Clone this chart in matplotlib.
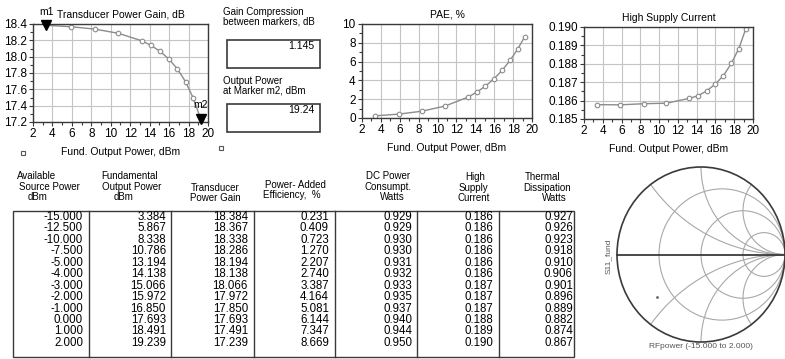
import matplotlib
matplotlib.use("Agg")
import matplotlib.pyplot as plt
from matplotlib.patches import Rectangle, Circle
from matplotlib.ticker import MultipleLocator, FormatStrFormatter

plt.rcParams['font.family'] = ['Liberation Sans', 'DejaVu Sans']

src_power = [-15.0, -12.5, -10.0, -7.5, -5.0, -4.0, -3.0, -2.0, -1.0, 0.0, 1.0, 2.0]
fund_out = [3.384, 5.867, 8.338, 10.786, 13.194, 14.138, 15.066, 15.972, 16.850, 17.693, 18.491, 19.239]
gain = [18.384, 18.367, 18.338, 18.286, 18.194, 18.138, 18.066, 17.972, 17.850, 17.693, 17.491, 17.239]
pae = [0.231, 0.409, 0.723, 1.270, 2.207, 2.740, 3.387, 4.164, 5.081, 6.144, 7.347, 8.669]
dc_power = [0.929, 0.929, 0.930, 0.930, 0.931, 0.932, 0.933, 0.935, 0.937, 0.940, 0.944, 0.950]
supply_current = [0.18578, 0.18577, 0.18583, 0.18586, 0.18612, 0.18626, 0.18653, 0.18689, 0.18736, 0.18802, 0.18883, 0.18991]
thermal = [0.927, 0.926, 0.923, 0.918, 0.910, 0.906, 0.901, 0.896, 0.889, 0.882, 0.874, 0.867]

gain_compression = 1.145
pout_m2 = 19.24

s11_re = [-0.52]
s11_im = [-0.49]
r_circles = [1 / 3, 1.0, 3.0]
x_arcs = [0.5, 1.0, 2.0]

headers = [
    ["Available", "Source Power", "dBm"],
    ["Fundamental", "Output Power", "dBm"],
    ["Transducer", "Power Gain"],
    ["Power- Added", "Efficiency,  %"],
    ["DC Power", "Consumpt.", "Watts"],
    ["High", "Supply", "Current"],
    ["Thermal", "Dissipation", "Watts"],
]
columns = [src_power, fund_out, gain, pae, dc_power, supply_current, thermal]

W, H = 785, 359
fig = plt.figure(figsize=(W / 100, H / 100), dpi=100)
fig.patch.set_facecolor('white')


def px_axes(l, t, r, b):
    return fig.add_axes([l / W, 1 - b / H, (r - l) / W, (b - t) / H])


# overlay in pixel coords for the free text / table
ov = fig.add_axes([0, 0, 1, 1])
ov.set_xlim(0, W)
ov.set_ylim(H, 0)
ov.axis('off')

LINE = '#8c8c8c'
DARK = '#3a3a3a'


def trace_plot(box, y, ylim, ymaj, ymin, yfmt, title):
    ax = px_axes(*box)
    ax.plot(fund_out, y, color=LINE, lw=1, marker='o', ms=3.3, mfc='white', mec=LINE, mew=0.8)
    ax.set_xlim(2, 20)
    ax.set_ylim(*ylim)
    ax.xaxis.set_major_locator(MultipleLocator(2))
    ax.xaxis.set_minor_locator(MultipleLocator(1))
    ax.yaxis.set_major_locator(MultipleLocator(ymaj))
    ax.yaxis.set_minor_locator(MultipleLocator(ymin))
    ax.yaxis.set_major_formatter(FormatStrFormatter(yfmt))
    ax.grid(True, which='major', color='#c4c4c4', lw=0.8)
    ax.tick_params(which='major', length=3, width=0.8, pad=1.5, labelsize=8.5, color=DARK)
    ax.tick_params(which='minor', length=2, width=0.8, color=DARK)
    for s in ax.spines.values():
        s.set_color(DARK)
        s.set_linewidth(1)
    ax.set_title(title, fontsize=7.5, pad=4.5)
    ax.set_xlabel('Fund. Output Power, dBm', fontsize=7.5, labelpad=5)
    return ax


g = trace_plot((33, 24, 208, 122), gain, (17.2, 18.4), 0.2, 0.1, '%.1f', 'Transducer Power Gain, dB')
for i, name in ((0, 'm1'), (-1, 'm2')):
    g.plot(fund_out[i], gain[i], marker='v', ms=7, color='black', clip_on=False, zorder=5)
    g.annotate(name, (fund_out[i], gain[i]), xytext=(0, 7.5), textcoords='offset points',
               ha='center', fontsize=7.5, annotation_clip=False)

trace_plot((362, 24, 532, 118), pae, (0, 10), 2, 1, '%d', 'PAE, %')
trace_plot((584, 27, 753, 119), supply_current, (0.185, 0.190), 0.001, 0.0005, '%.3f', 'High Supply Current')

# little hollow squares under the gain plot
ov.plot([23, 221], [153, 148], ls='none', marker='s', ms=3, mfc='white', mec='#555555', mew=0.8)

# readout boxes
ov.text(223, 16.5, "Gain Compression\nbetween markers, dB", fontsize=7, va='center', linespacing=0.95)
ov.add_patch(Rectangle((227, 40), 93, 28, fill=False, ec=DARK, lw=1.2))
ov.text(314, 46, f"{gain_compression:.3f}", fontsize=7.5, ha='right', va='center')
ov.text(223, 85.5, "Output Power\nat Marker m2, dBm", fontsize=7, va='center', linespacing=0.95)
ov.add_patch(Rectangle((227, 104), 93, 28, fill=False, ec=DARK, lw=1.2))
ov.text(314, 110, f"{pout_m2:.2f}", fontsize=7.5, ha='right', va='center')

# table
col_lines = [13, 89, 171, 254, 335, 417, 499, 574]
col_right = [83, 166, 248, 329, 412, 493, 573]
header_x = [[37, 49, 38], [130, 132, 124], [215, 215], [295, 292],
            [388, 388, 392], [475, 473, 474], [543, 547, 554]]
header_y = [[176, 187, 197], [176, 187, 197], [188, 198], [185, 195],
            [176, 187, 197], [177, 188, 198], [177, 188, 198]]
for k, (lines, vals) in enumerate(zip(headers, columns)):
    for j, txt in enumerate(lines):
        ov.text(header_x[k][j], header_y[k][j], txt, fontsize=7, ha='center', va='center')
    for i, v in enumerate(vals):
        ov.text(col_right[k], 217 + i * 11.45, f"{v:.3f}", fontsize=8.3, ha='right', va='center')
ov.add_patch(Rectangle((13, 211), 561, 146, fill=False, ec=DARK, lw=1))
for x in col_lines[1:-1]:
    ov.plot([x, x], [211, 357], color=DARK, lw=1)

# Smith chart (slightly squashed horizontally, like the screenshot)
sm = px_axes(617, 167, 785, 342)
sm.set_xlim(-1, 1)
sm.set_ylim(-1, 1)
sm.axis('off')
bound = Circle((0, 0), 1, transform=sm.transData)
for r in r_circles:
    sm.add_patch(Circle((r / (1 + r), 0), 1 / (1 + r), fill=False, ec='#a8a8a8', lw=0.8))
for x in x_arcs:
    for s in (1, -1):
        c = Circle((1, s / x), 1 / x, fill=False, ec='#a8a8a8', lw=0.8)
        sm.add_patch(c)
        c.set_clip_path(bound)
sm.add_patch(Circle((0, 0), 1, fill=False, ec=DARK, lw=1.2, clip_on=False))
sm.plot([-1, 1], [0, 0], color=DARK, lw=1.3, clip_on=False)
sm.plot(s11_re, s11_im, ls='none', marker='.', ms=2, color='#666666')
ov.text(608, 256, "S11_fund", fontsize=6, rotation=90, ha='center', va='center', color='#555555')
ov.text(701, 346, "RFpower (-15.000 to 2.000)", fontsize=6, ha='center', va='center', color='#555555')

fig.savefig('out.png', dpi=100, facecolor='white')
